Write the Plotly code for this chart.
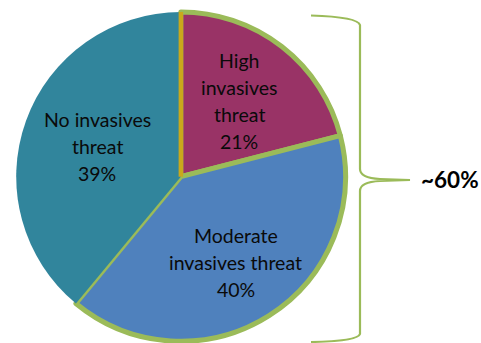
import math
import plotly.graph_objects as go

# ---- data ----
categories = ["High invasives threat", "Moderate invasives threat", "No invasives threat"]
label_lines = [["High", "invasives", "threat"], ["Moderate", "invasives threat"], ["No invasives", "threat"]]
values = [21, 40, 39]
pct_labels = ["21%", "40%", "39%"]
brace_label = "~60%"

# ---- style ----
W, H = 481, 343
colors = ["#993366", "#4F81BD", "#31859C"]
line_colors = ["#9BBB59", "#9BBB59", "rgba(0,0,0,0)"]
line_widths = [5, 5, 0]
green = "#9BBB59"
gold = "#C9A81C"
dom_x = [0.025, 0.727]
dom_y = [0.005, 0.965]
label_r = [0.58, 0.62, 0.54]  # label distance as fraction of radius
line_gap = 27  # px between label lines
font = "Lato"

fig = go.Figure(go.Pie(
    labels=categories, values=values, sort=False, direction="clockwise", rotation=0,
    marker=dict(colors=colors, line=dict(color=line_colors, width=line_widths)),
    textinfo="none", hoverinfo="label+percent", showlegend=False,
    domain=dict(x=dom_x, y=dom_y),
))

# pie geometry in pixels
cx = (dom_x[0] + dom_x[1]) / 2 * W
cy = H - (dom_y[0] + dom_y[1]) / 2 * H
R = min((dom_x[1] - dom_x[0]) * W, (dom_y[1] - dom_y[0]) * H) / 2

def paper(x, y):
    return x / W, 1 - y / H

# labels from slice mid-angles
total = sum(values)
cum = 0
annotations = []
for i, v in enumerate(values):
    mid = (cum + v / 2) / total * 2 * math.pi
    cum += v
    lx = cx + label_r[i] * R * math.sin(mid)
    ly = cy - label_r[i] * R * math.cos(mid)
    lines = label_lines[i] + [pct_labels[i]]
    n = len(lines)
    for j, t in enumerate(lines):
        px, py = paper(lx, ly + (j - (n - 1) / 2) * line_gap)
        annotations.append(dict(x=px, y=py, xref="paper", yref="paper", text=t, showarrow=False,
                                font=dict(family=font, size=19.5, color="#0a0a0a"),
                                xanchor="center", yanchor="middle"))

# brace label
bx, by = paper(450, 180)
annotations.append(dict(x=bx, y=by, xref="paper", yref="paper", text="<b>" + brace_label + "</b>",
                        showarrow=False, font=dict(family=font, size=22.5, color="#000000"),
                        xanchor="center", yanchor="middle"))

# gold boundary line at slice start (12 o'clock)
x0, y0 = paper(cx, cy)
x1, y1 = paper(cx, cy - R)
shapes = [dict(type="line", xref="paper", yref="paper", x0=x0, y0=y0, x1=x1, y1=y1,
               line=dict(color=gold, width=4.5))]

# curly brace path (pixel points -> paper)
def P(x, y):
    a, b = paper(x, y)
    return f"{a:.5f},{b:.5f}"

path = (f"M {P(311,15.5)} Q {P(358,17)} {P(360,25)} L {P(360,169)} "
        f"Q {P(360,178)} {P(380,179)} L {P(410,180)} L {P(380,181)} "
        f"Q {P(360,182)} {P(360,191)} L {P(360,334)} Q {P(358,341)} {P(311,342)}")
shapes.append(dict(type="path", xref="paper", yref="paper", path=path,
                   line=dict(color=green, width=2.2)))

fig.update_layout(width=W, height=H, margin=dict(l=0, r=0, t=0, b=0),
                  paper_bgcolor="white", plot_bgcolor="white",
                  annotations=annotations, shapes=shapes)
fig.write_html("out.html")
